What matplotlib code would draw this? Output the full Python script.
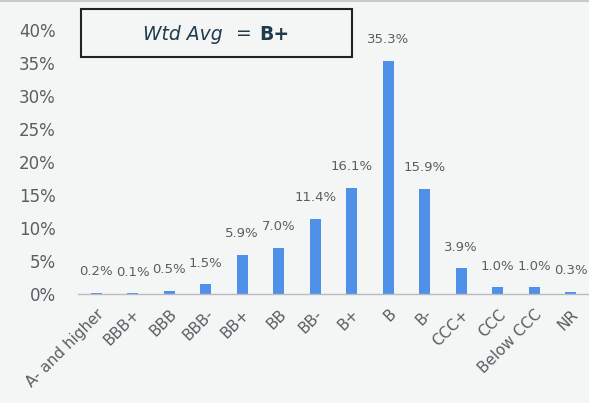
import matplotlib
matplotlib.use("Agg")
import matplotlib.pyplot as plt
from matplotlib.patches import Rectangle

categories = ["A- and higher", "BBB+", "BBB", "BBB-", "BB+", "BB", "BB-", "B+",
              "B", "B-", "CCC+", "CCC", "Below CCC", "NR"]
shares = [0.2, 0.1, 0.5, 1.5, 5.9, 7.0, 11.4, 16.1, 35.3, 15.9, 3.9, 1.0, 1.0, 0.3]
yticks = [0, 5, 10, 15, 20, 25, 30, 35, 40]

bg = "#f4f6f6"
bar_col = "#4f90e8"
txt_col = "#5a5e62"
box_txt = "#1f3a4a"

plt.rcParams["font.family"] = ["DejaVu Sans"]

fig = plt.figure(figsize=(5.89, 4.03), dpi=100, facecolor=bg)
ax = fig.add_axes([78 / 589, 1 - 294 / 403, 511 / 589, (294 - 30) / 403])
ax.set_facecolor(bg)

x = list(range(len(categories)))
ax.bar(x, shares, width=0.3, color=bar_col, zorder=2)
for xi, v in zip(x, shares):
    ax.annotate(f"{v:.1f}%", (xi, v), xytext=(0, 10.5), textcoords="offset points",
                ha="center", va="bottom", fontsize=9.5, color=txt_col)

ax.set_xlim(-0.5, 13.5)
ax.set_ylim(0, 40)
ax.set_yticks(yticks)
ax.set_yticklabels([f"{t}%" for t in yticks], fontsize=12, color=txt_col)
ax.set_xticks(x)
ax.set_xticklabels(categories, rotation=45, ha="right", rotation_mode="anchor",
                   fontsize=11, color=txt_col)
ax.tick_params(length=0, axis="both")
ax.tick_params(axis="x", pad=9)
ax.tick_params(axis="y", pad=16)
for s in ["top", "right", "left"]:
    ax.spines[s].set_visible(False)
ax.spines["bottom"].set_color("#b8bcc0")
ax.spines["bottom"].set_linewidth(1.0)

# weighted-average box
box = Rectangle((81 / 589, 1 - 57 / 403), (352 - 81) / 589, 48 / 403,
                transform=fig.transFigure, facecolor="none", edgecolor="#222222", lw=1.5)
fig.patches.append(box)
ty = 1 - 34 / 403
fig.text(223 / 589, ty, "Wtd Avg", ha="right", va="center", fontsize=13.5,
         fontstyle="italic", color=box_txt)
fig.text(244 / 589, ty, "=", ha="center", va="center", fontsize=13.5, color=box_txt)
fig.text(259 / 589, ty, "B+", ha="left", va="center", fontsize=13.5,
         fontweight="bold", color=box_txt)

fig.add_artist(plt.Line2D([0, 1], [1 - 0.5 / 403, 1 - 0.5 / 403], color="#c8cccf", lw=1.5))

fig.savefig("out.png", dpi=100, facecolor=bg)
